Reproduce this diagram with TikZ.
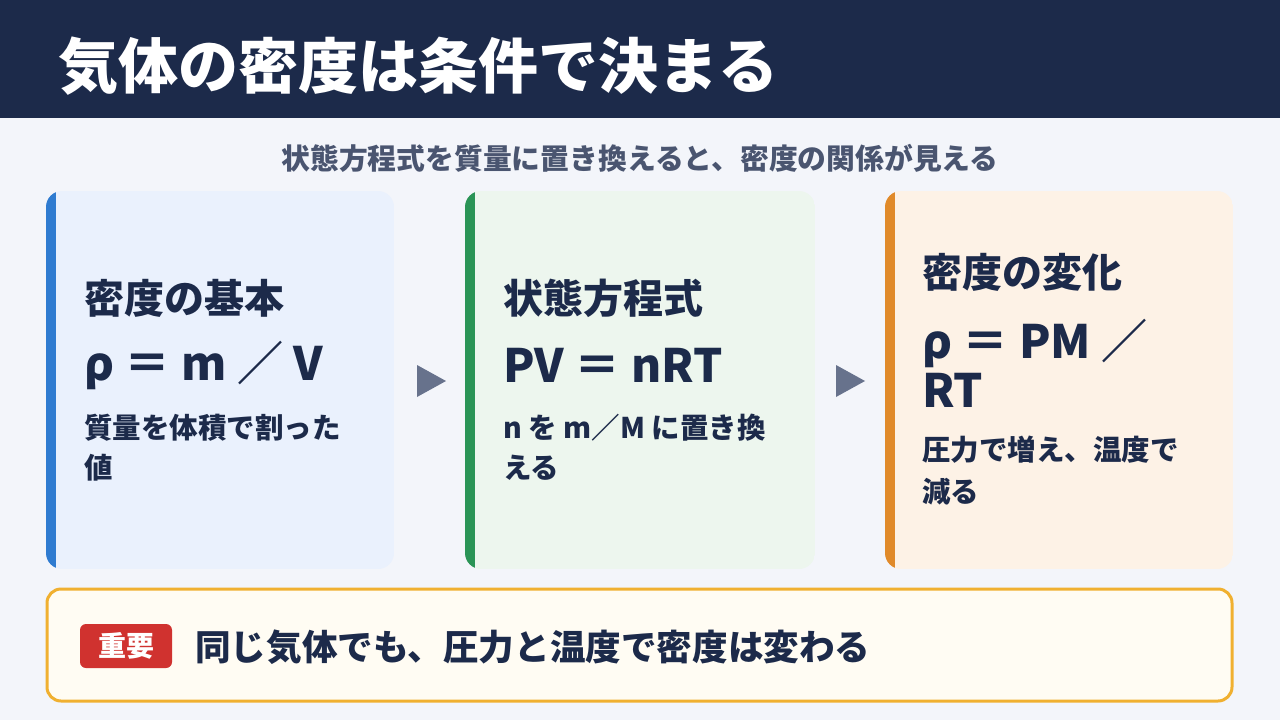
\documentclass[tikz,border=0pt]{standalone}
\usepackage{fontspec}
\setmainfont{Noto Sans CJK JP}
\definecolor{navy}{HTML}{1C2A4A}
\definecolor{bg}{HTML}{F3F5FA}
\definecolor{sub}{HTML}{4A5570}
\definecolor{cblue}{HTML}{2F7BD0}
\definecolor{cgreen}{HTML}{2A9456}
\definecolor{corange}{HTML}{E08A2A}
\definecolor{fblue}{HTML}{EAF1FD}
\definecolor{fgreen}{HTML}{EDF6EE}
\definecolor{forange}{HTML}{FDF2E6}
\definecolor{arr}{HTML}{67728C}
\definecolor{gold}{HTML}{F0B030}
\definecolor{cream}{HTML}{FFFCF3}
\definecolor{badge}{HTML}{D0322F}
\begin{document}
\begin{tikzpicture}[x=1pt,y=-1pt,
  head/.style={anchor=west,text=navy,font=\fontsize{40}{44}\selectfont\bfseries,inner sep=0},
  form/.style={anchor=west,text=navy,font=\fontsize{46}{50}\selectfont\bfseries,inner sep=0},
  desc/.style={anchor=west,text=navy,font=\fontsize{28.5}{32}\selectfont\bfseries,inner sep=0},
  tri/.style={fill=arr,draw=none}]
\useasboundingbox (0,0) rectangle (1280,720);
\fill[bg] (0,0) rectangle (1280,720);
\fill[navy] (0,0) rectangle (1280,118);
\node[anchor=west,text=white,font=\fontsize{60}{64}\selectfont\bfseries,inner sep=0] (title) at (58,66) {気体の密度は条件で決まる};
\node[text=sub,font=\fontsize{28.8}{32}\selectfont\bfseries,inner sep=0] (subtitle) at (640,158) {状態方程式を質量に置き換えると、密度の関係が見える};
% cards
\foreach \x/\w/\c/\f in {46/348/cblue/fblue,465/350/cgreen/fgreen,885/348/corange/forange}{
  \begin{scope}
  \clip[rounded corners=16] (\x,191) rectangle ++(\w,378);
  \fill[\f] (\x,191) rectangle ++(\w,378);
  \fill[\c] (\x,191) rectangle ++(10,378);
  \end{scope}
}
\node[head] (h1) at (84,298) {密度の基本};
\node[form] (f1) at (84,365) {ρ ＝ m ／ V};
\node[desc] (d1a) at (84,428) {質量を体積で割った};
\node[desc] (d1b) at (84,468) {値};
\node[head] (h2) at (503,298) {状態方程式};
\node[form] (f2) at (503,365) {PV ＝ nRT};
\node[desc] (d2a) at (503,428) {n を m／M に置き換};
\node[desc] (d2b) at (503,468) {える};
\node[head] (h3) at (922,272) {密度の変化};
\node[form] (f3a) at (922,343) {ρ ＝ PM ／};
\node[form] (f3b) at (922,390) {RT};
\node[desc] (d3a) at (922,450) {圧力で増え、温度で};
\node[desc] (d3b) at (922,492) {減る};
\fill[tri] (417,365) -- (446,381) -- (417,397) -- cycle;
\fill[tri] (836,365) -- (865,381) -- (836,397) -- cycle;
% bottom
\draw[gold,line width=3,fill=cream,rounded corners=14] (47,589) rectangle (1232,701);
\node[fill=badge,text=white,rounded corners=6,minimum width=92,minimum height=44,inner sep=0,font=\fontsize{28}{30}\selectfont\bfseries] (badge) at (126,646) {重要};
\node[anchor=west,text=navy,font=\fontsize{35.6}{38}\selectfont\bfseries,inner sep=0] (main) at (195,647) {同じ気体でも、圧力と温度で密度は変わる};
\end{tikzpicture}
\end{document}
